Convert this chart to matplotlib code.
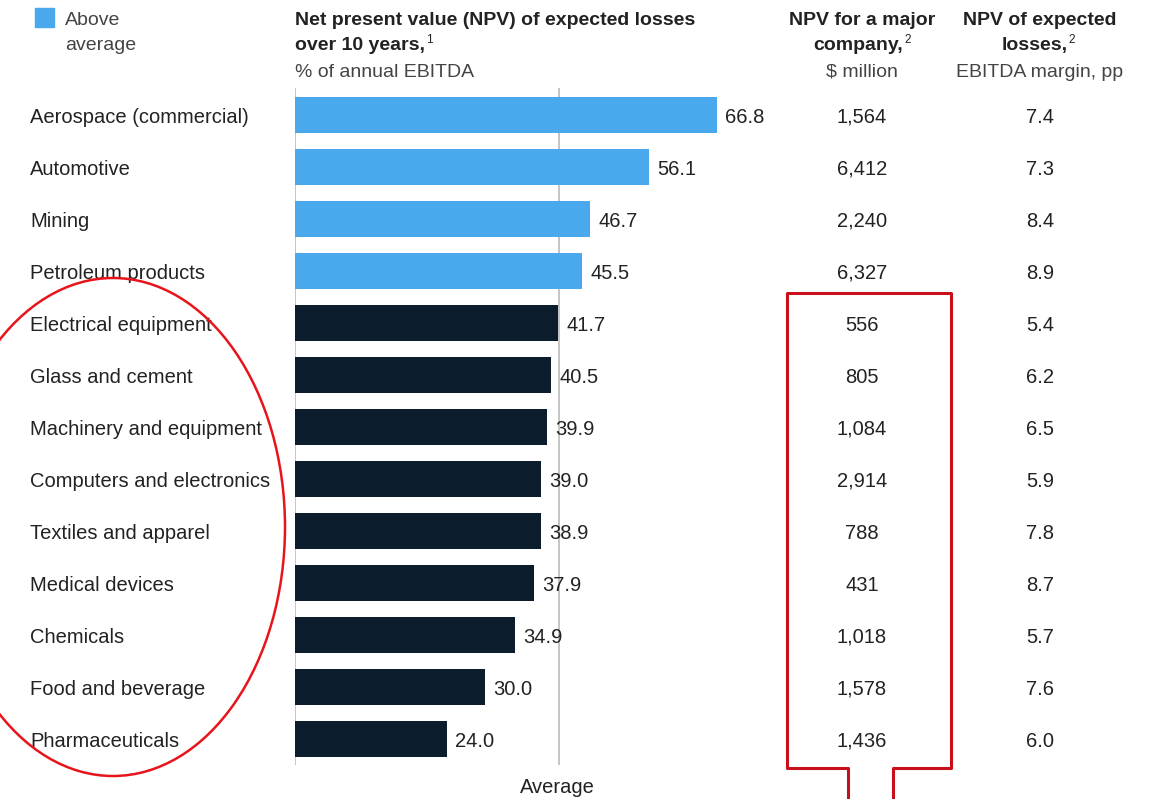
import matplotlib
matplotlib.use("Agg")
import matplotlib.pyplot as plt
from matplotlib.patches import Ellipse
from matplotlib.transforms import blended_transform_factory

plt.rcParams['font.family'] = ['Liberation Sans', 'DejaVu Sans']

# data
industries = ["Aerospace (commercial)", "Automotive", "Mining", "Petroleum products",
              "Electrical equipment", "Glass and cement", "Machinery and equipment",
              "Computers and electronics", "Textiles and apparel", "Medical devices",
              "Chemicals", "Food and beverage", "Pharmaceuticals"]
npv_pct = [66.8, 56.1, 46.7, 45.5, 41.7, 40.5, 39.9, 39.0, 38.9, 37.9, 34.9, 30.0, 24.0]
npv_major = ["1,564", "6,412", "2,240", "6,327", "556", "805", "1,084",
             "2,914", "788", "431", "1,018", "1,578", "1,436"]
npv_margin = [7.4, 7.3, 8.4, 8.9, 5.4, 6.2, 6.5, 5.9, 7.8, 8.7, 5.7, 7.6, 6.0]
average = 41.8

W, H = 1150, 799
fig = plt.figure(figsize=(W / 100, H / 100), dpi=100)

blue = "#4AA8EC"
navy = "#0B1C2C"
txt = "#222222"
grey = "#444444"
fs = 14.5   # body text
hfs = 14    # headers

# bar axes: left edge at px 295, rows at 115 + 52*i
ax = fig.add_axes([295 / W, (H - 765) / H, (W - 295) / W, (765 - 88) / H])
ax.set_xlim(0, (W - 295) / 6.317)
ax.set_ylim(12.5, -0.52)
ax.axis("off")

colors = [blue if v > average else navy for v in npv_pct]
ypos = list(range(len(industries)))
ax.barh(ypos, npv_pct, height=0.69, color=colors, zorder=2)
ax.axvline(0, color="#BBBBBB", lw=1.2, zorder=1)
ax.axvline(average, color="#BBBBBB", lw=1.2, zorder=1)

for i, v in enumerate(npv_pct):
    ax.text(v + 1.3, i, f"{v:.1f}", ha="left", va="center_baseline", fontsize=fs, color=txt)

tr = blended_transform_factory(fig.transFigure, ax.transData)
for i, name in enumerate(industries):
    ax.text(30 / W, i, name, transform=tr, ha="left", va="center_baseline", fontsize=fs, color=txt)
    ax.text(862 / W, i, npv_major[i], transform=tr, ha="center", va="center_baseline",
            fontsize=fs, color=txt)
    ax.text(1040 / W, i, f"{npv_margin[i]:.1f}", transform=tr, ha="center",
            va="center_baseline", fontsize=fs, color=txt)

# overlay in pixel coordinates for headers and annotations
ov = fig.add_axes([0, 0, 1, 1], zorder=5)
ov.set_xlim(0, W)
ov.set_ylim(H, 0)
ov.axis("off")
ov.patch.set_alpha(0)

renderer = fig.canvas.get_renderer()


def with_sup(x, y, main, sup, center=False):
    # bold header text followed by a small superscript footnote mark
    t = ov.text(x, y, main, ha="left", va="baseline", fontsize=hfs,
                fontweight="bold", color=txt)
    s = ov.text(0, y - 7, sup, ha="left", va="baseline", fontsize=8.5, color=txt)
    w_main = t.get_window_extent(renderer).width
    w_sup = s.get_window_extent(renderer).width
    x0 = x - (w_main + 1 + w_sup) / 2 if center else x
    t.set_x(x0)
    s.set_x(x0 + w_main + 1)


y1, y2, y3 = 25, 50, 77   # header baselines

# legend
ov.add_patch(plt.Rectangle((35, 8), 19, 19, color=blue))
ov.text(65, y1, "Above", ha="left", va="baseline", fontsize=hfs, color=grey)
ov.text(65, y2, "average", ha="left", va="baseline", fontsize=hfs, color=grey)

# headers
ov.text(295, y1, "Net present value (NPV) of expected losses", ha="left", va="baseline",
        fontsize=hfs, fontweight="bold", color=txt)
with_sup(295, y2, "over 10 years,", "1")
ov.text(295, y3, "% of annual EBITDA", ha="left", va="baseline", fontsize=hfs, color=grey)

ov.text(862, y1, "NPV for a major", ha="center", va="baseline", fontsize=hfs,
        fontweight="bold", color=txt)
with_sup(862, y2, "company,", "2", center=True)
ov.text(862, y3, "$ million", ha="center", va="baseline", fontsize=hfs, color=grey)

ov.text(1040, y1, "NPV of expected", ha="center", va="baseline", fontsize=hfs,
        fontweight="bold", color=txt)
with_sup(1038, y2, "losses,", "2", center=True)
ov.text(1040, y3, "EBITDA margin, pp", ha="center", va="baseline", fontsize=hfs, color=grey)

ov.text(557, 793, "Average", ha="center", va="baseline", fontsize=fs, color=txt)

# red annotations
ov.add_patch(Ellipse((113, 527), 344, 498, fill=False, ec="#E8141B", lw=1.8))
red = "#C8101A"
ov.plot([848, 848, 787, 787, 951, 951, 893, 893],
        [799, 768, 768, 293, 293, 768, 768, 799], color=red, lw=2.2)

fig.savefig("out.png", dpi=100)
